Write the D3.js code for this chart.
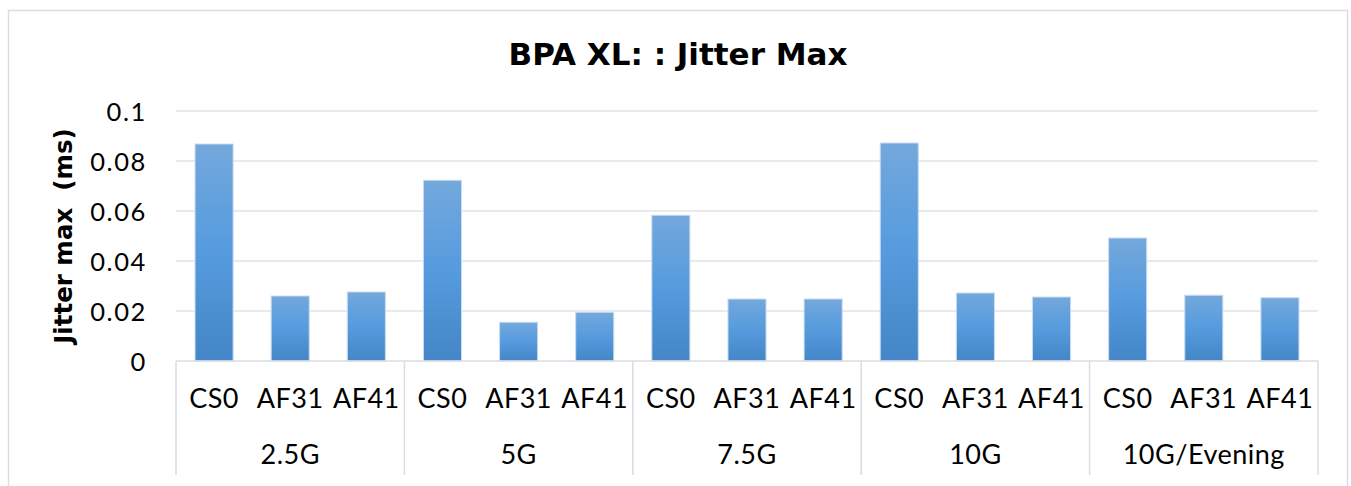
<!DOCTYPE html>
<html>
<head>
<meta charset="utf-8">
<script src="https://cdn.jsdelivr.net/npm/d3@7"></script>
<style>
  html, body { margin: 0; padding: 0; background: #ffffff; }
  svg { display: block; }
</style>
</head>
<body>
<svg id="chart" width="1351" height="486"></svg>
<script>
// Jitter max (ms) per traffic class, grouped by link load
const groups = ["2.5G", "5G", "7.5G", "10G", "10G/Evening"];
const classes = ["CS0", "AF31", "AF41"];
const cs0Values  = [0.0868, 0.0723, 0.0583, 0.0872, 0.0492];
const af31Values = [0.0260, 0.0155, 0.0248, 0.0272, 0.0263];
const af41Values = [0.0276, 0.0195, 0.0248, 0.0256, 0.0253];
const yTicks = [0, 0.02, 0.04, 0.06, 0.08, 0.1];
const yTickLabels = ["0", "0.02", "0.04", "0.06", "0.08", "0.1"];

const seriesByClass = { CS0: cs0Values, AF31: af31Values, AF41: af41Values };
const rows = [];
groups.forEach((g, gi) => classes.forEach(c => rows.push({ group: g, cls: c, value: seriesByClass[c][gi] })));

const W = 1351, H = 486;
const plot = { left: 176, right: 1318, top: 111, bottom: 361 };
const FONT = "Lato, 'Open Sans', 'DejaVu Sans', sans-serif";
const BOLD_FONT = "'DejaVu Sans', Lato, sans-serif";

const svg = d3.select("#chart");

// bar gradient, lighter at the top
const grad = svg.append("defs").append("linearGradient")
  .attr("id", "barFill").attr("x1", 0).attr("y1", 0).attr("x2", 0).attr("y2", 1);
grad.append("stop").attr("offset", "0%").attr("stop-color", "#73a8dc");
grad.append("stop").attr("offset", "50%").attr("stop-color", "#569bde");
grad.append("stop").attr("offset", "100%").attr("stop-color", "#4486c7");

// outer chart frame
svg.append("rect")
  .attr("x", 8.5).attr("y", 10.5).attr("width", 1339).attr("height", 500)
  .attr("fill", "#ffffff").attr("stroke", "#d9dde3").attr("stroke-width", 1.5);

const x0 = d3.scaleBand().domain(groups).range([plot.left, plot.right]).padding(0);
const x1 = d3.scaleBand().domain(classes).range([0, x0.bandwidth()])
  .paddingInner(0.5).paddingOuter(0.25);
const y = d3.scaleLinear().domain([0, 0.1]).range([plot.bottom, plot.top]);

// horizontal gridlines
svg.append("g")
  .selectAll("line").data(yTicks.filter(t => t > 0)).join("line")
  .attr("x1", plot.left).attr("x2", plot.right)
  .attr("y1", d => y(d)).attr("y2", d => y(d))
  .attr("stroke", "#e0e3e9").attr("stroke-width", 1.5);

// y axis tick labels
const yAxis = d3.axisLeft(y).tickValues(yTicks)
  .tickFormat((d, i) => yTickLabels[i]).tickSize(0).tickPadding(29);
const yg = svg.append("g").attr("transform", `translate(${plot.left},0)`).call(yAxis);
yg.select(".domain").remove();
yg.selectAll("text")
  .attr("font-family", FONT).attr("font-size", 25.5).attr("fill", "#000")
  .attr("letter-spacing", 1.6).attr("dy", "0.36em");

// bars
svg.append("g")
  .selectAll("rect").data(rows).join("rect")
  .attr("x", d => x0(d.group) + x1(d.cls))
  .attr("width", x1.bandwidth())
  .attr("y", d => y(d.value))
  .attr("height", d => y(0) - y(d.value))
  .attr("fill", "url(#barFill)")
  .attr("stroke", "#c9dcf1").attr("stroke-width", 1);

// category axis line and group separators
svg.append("line")
  .attr("x1", plot.left).attr("x2", plot.right)
  .attr("y1", plot.bottom).attr("y2", plot.bottom)
  .attr("stroke", "#d9dde3").attr("stroke-width", 1.5);
const sepX = groups.map(g => x0(g)).concat([plot.right]);
svg.append("g")
  .selectAll("line").data(sepX).join("line")
  .attr("x1", d => d).attr("x2", d => d)
  .attr("y1", plot.bottom).attr("y2", 475)
  .attr("stroke", "#d9dde3").attr("stroke-width", 1.5);

// class labels under each bar
svg.append("g")
  .selectAll("text").data(rows).join("text")
  .attr("x", d => x0(d.group) + x1(d.cls) + x1.bandwidth() / 2)
  .attr("y", 408)
  .attr("text-anchor", "middle")
  .attr("font-family", FONT).attr("font-size", 27).attr("fill", "#000")
  .attr("letter-spacing", 0.5)
  .text(d => d.cls);

// group labels
svg.append("g")
  .selectAll("text").data(groups).join("text")
  .attr("x", d => x0(d) + x0.bandwidth() / 2)
  .attr("y", 464)
  .attr("text-anchor", "middle")
  .attr("font-family", FONT).attr("font-size", 27).attr("fill", "#000")
  .attr("letter-spacing", 0.5)
  .text(d => d);

// title
svg.append("text")
  .attr("x", 678).attr("y", 65)
  .attr("text-anchor", "middle")
  .attr("font-family", BOLD_FONT).attr("font-size", 31).attr("font-weight", "bold")
  .attr("fill", "#000")
  .text("BPA XL: : Jitter Max");

// y axis title
svg.append("text")
  .attr("transform", `translate(72,${(plot.top + plot.bottom) / 2}) rotate(-90)`)
  .attr("text-anchor", "middle")
  .attr("font-family", BOLD_FONT).attr("font-size", 24.5).attr("font-weight", "bold")
  .attr("fill", "#000")
  .attr("xml:space", "preserve")
  .text("Jitter max  (ms)");
</script>
</body>
</html>
